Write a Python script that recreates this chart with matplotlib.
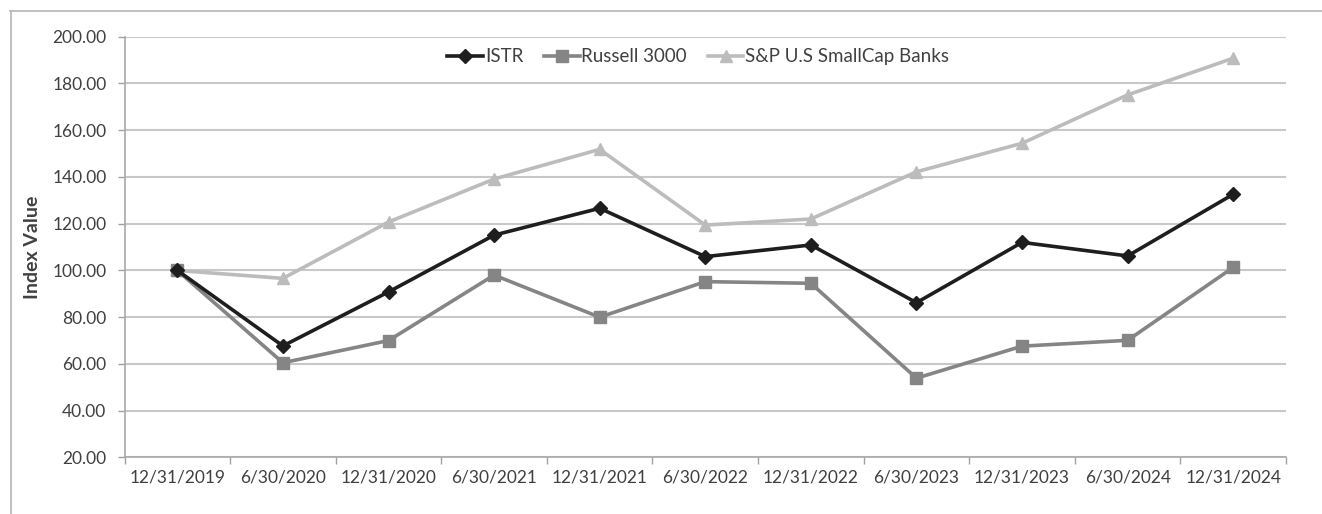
import matplotlib.pyplot as plt
from matplotlib.lines import Line2D

# Index values
dates = ["12/31/2019", "6/30/2020", "12/31/2020", "6/30/2021", "12/31/2021",
         "6/30/2022", "12/31/2022", "6/30/2023", "12/31/2023", "6/30/2024",
         "12/31/2024"]
istr = [100.0, 67.7, 90.8, 115.1, 126.6, 105.9, 110.9, 86.2, 112.0, 106.2, 132.6]
russell = [100.0, 60.5, 70.0, 98.0, 80.0, 95.2, 94.5, 53.9, 67.6, 70.1, 101.3]
sp_banks = [100.0, 96.6, 120.7, 139.1, 151.8, 119.4, 122.0, 142.2, 154.4, 175.1, 190.8]
y_ticks = [20, 40, 60, 80, 100, 120, 140, 160, 180, 200]

plt.rcParams["font.family"] = ["Lato", "DejaVu Sans"]

fig = plt.figure(figsize=(13.22, 5.14), dpi=100)
ax = fig.add_axes([0.0942, 0.1101, 0.8786, 0.8185])

x = list(range(len(dates)))
ax.plot(x, istr, color="#1e1e1e", lw=2.6, marker="D", ms=7, label="ISTR", zorder=4)
ax.plot(x, russell, color="#858585", lw=2.6, marker="s", ms=9, label="Russell 3000", zorder=3)
ax.plot(x, sp_banks, color="#bcbcbc", lw=2.6, marker="^", ms=9, label="S&P U.S SmallCap Banks", zorder=2)

ax.set_xlim(-0.5, len(dates) - 0.5)
ax.set_ylim(20, 200)
ax.set_yticks(y_ticks)
ax.set_yticklabels([f"{v:.2f}" for v in y_ticks])
ax.set_xticks(x)
ax.set_xticklabels(dates)
ax.set_xticks([i - 0.5 for i in range(len(dates) + 1)], minor=True)
ax.tick_params(axis="x", which="major", length=0, pad=9, labelsize=12.5, labelcolor="#404040")
ax.tick_params(axis="x", which="minor", length=5, color="#a0a0a0", width=1)
ax.tick_params(axis="y", length=5, color="#a0a0a0", width=1, pad=8, labelsize=12.5, labelcolor="#404040")

ax.grid(axis="y", color="#c8c8c8", lw=1.5, zorder=0)
ax.set_axisbelow(True)
for side in ("top", "right"):
    ax.spines[side].set_visible(False)
for side in ("left", "bottom"):
    ax.spines[side].set_color("#a8a8a8")
    ax.spines[side].set_linewidth(1.2)

ax.set_ylabel("Index Value", fontsize=14, fontweight="bold", color="#404040", labelpad=8)

ax.legend(loc="center", bbox_to_anchor=(0.494, 0.952), ncol=3, frameon=False,
          fontsize=13.5, handlelength=1.9, handletextpad=0.1, columnspacing=1.1,
          labelcolor="#404040")

# outer frame lines (top and left)
fig.add_artist(Line2D([10 / 1322, 1.0], [1 - 10.5 / 514] * 2, transform=fig.transFigure,
                      color="#b4b4b4", lw=1.2))
fig.add_artist(Line2D([10.5 / 1322] * 2, [0.0, 1 - 10.5 / 514], transform=fig.transFigure,
                      color="#b4b4b4", lw=1.2))

fig.savefig("out.png", dpi=100, facecolor="white")
